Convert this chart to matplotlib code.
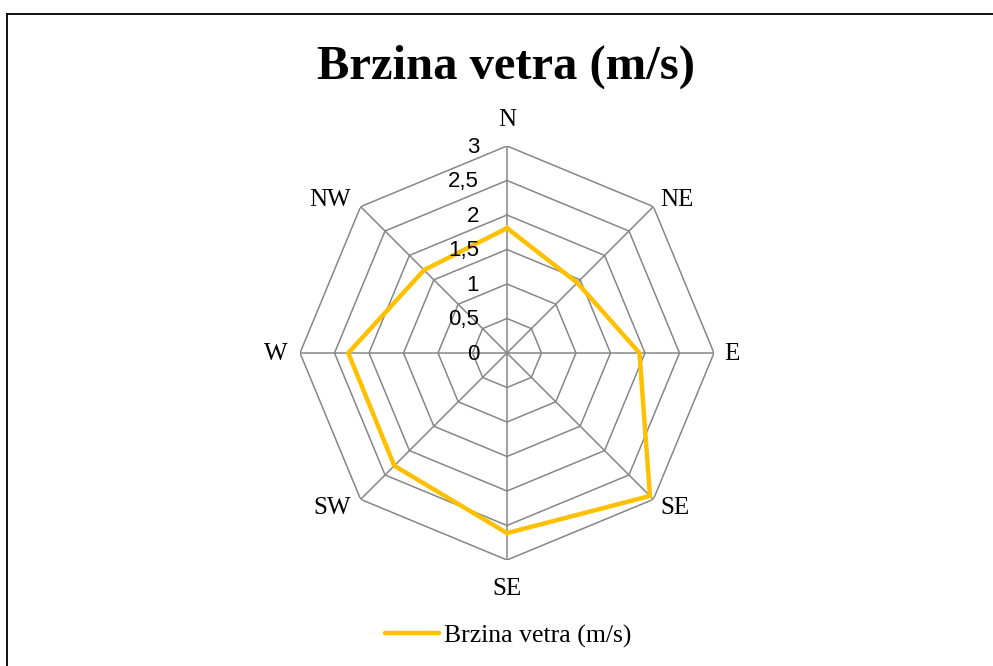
import numpy as np
import matplotlib
matplotlib.use('Agg')
import matplotlib.pyplot as plt
from matplotlib.lines import Line2D

# Data
directions = ['N', 'NE', 'E', 'SE', 'SE', 'SW', 'W', 'NW']
speeds = [1.81, 1.44, 1.92, 2.93, 2.61, 2.31, 2.30, 1.70]
rings = [0.5, 1.0, 1.5, 2.0, 2.5, 3.0]
ring_labels = ['0', '0,5', '1', '1,5', '2', '2,5', '3']
series_name = 'Brzina vetra (m/s)'

W, H = 993, 666
fig = plt.figure(figsize=(W / 100, H / 100), dpi=100)

# outer frame (only left and top edges visible)
fig.add_artist(Line2D([7 / W, 7 / W], [0, 1 - 14 / H], color='black', lw=1.3))
fig.add_artist(Line2D([7 / W, 1], [1 - 14 / H, 1 - 14 / H], color='black', lw=1.3))

cx, cy, R = 507, 353, 207
ax = fig.add_axes([(cx - R) / W, (H - cy - R) / H, 2 * R / W, 2 * R / H], projection='polar')
ax.set_theta_offset(np.pi / 2)
ax.set_theta_direction(-1)
ax.set_ylim(0, 3)
ax.grid(False)
ax.spines['polar'].set_visible(False)
ax.set_xticks([])
ax.set_yticks([])
ax.patch.set_alpha(0)

n = len(directions)
theta = np.arange(n) * 2 * np.pi / n
theta_c = np.append(theta, theta[0])

grid_col = '#868686'
for r in rings:
    ax.plot(theta_c, [r] * (n + 1), color=grid_col, lw=1.1, zorder=1)
for t in theta:
    ax.plot([t, t], [0, 3], color=grid_col, lw=1.1, zorder=1)

vals = np.append(speeds, speeds[0])
ax.plot(theta_c, vals, color='#FFC000', lw=3.2, solid_joinstyle='miter', zorder=3)

# radial tick labels
for i, lab in enumerate(ring_labels):
    r = i * 0.5
    ax.annotate(lab, xy=(0, r), xytext=(-20, -1), textcoords='offset points',
                ha='right', va='center', fontsize=16, family='Liberation Sans', zorder=4)

# category labels
offsets = [
    (0, 11, 'center', 'bottom'),
    (5, 5, 'left', 'center'),
    (7, -1, 'left', 'center'),
    (5, -6, 'left', 'center'),
    (0, -13, 'center', 'top'),
    (-7, -6, 'right', 'center'),
    (-9, -1, 'right', 'center'),
    (-7, 5, 'right', 'center'),
]
for t, lab, (dx, dy, ha, va) in zip(theta, directions, offsets):
    ax.annotate(lab, xy=(t, 3), xytext=(dx, dy), textcoords='offset points',
                ha=ha, va=va, fontsize=18, family='Liberation Serif')

fig.text(506 / W, 1 - 79 / H, series_name, ha='center', va='baseline',
         fontsize=35, fontweight='bold', family='Liberation Serif')

handle = Line2D([], [], color='#FFC000', lw=3.2, solid_capstyle='round')
fig.legend([handle], [series_name], loc='center', bbox_to_anchor=(508 / W, 1 - 636 / H),
           frameon=False, handlelength=2.1, handletextpad=0.2,
           prop={'family': 'Liberation Serif', 'size': 18.5})

fig.savefig('out.png', dpi=100)
